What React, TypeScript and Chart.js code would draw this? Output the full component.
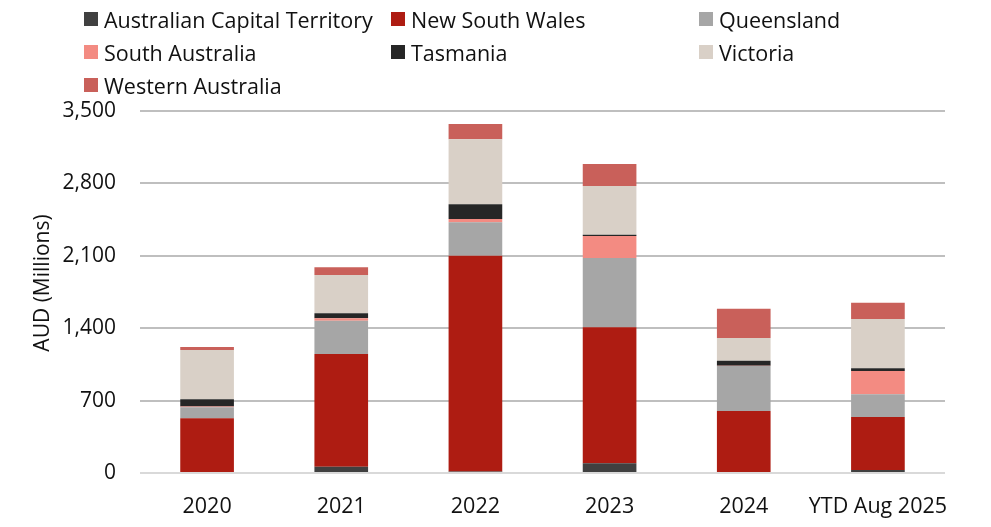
import React, { useEffect, useRef } from "react";
import { Chart, registerables } from "chart.js";

Chart.register(...registerables);

const categories = ["2020", "2021", "2022", "2023", "2024", "YTD Aug 2025"];
const seriesNames = [
  "Australian Capital Territory",
  "New South Wales",
  "Queensland",
  "South Australia",
  "Tasmania",
  "Victoria",
  "Western Australia",
];
const seriesColors = ["#404040", "#ae1c12", "#a6a6a6", "#f38b82", "#262626", "#d9d0c7", "#c9605a"];

const act = [0, 61, 15, 94, 0, 29];
const nsw = [529, 1089, 2086, 1315, 600, 512];
const qld = [106, 323, 323, 670, 434, 220];
const sa = [8, 23, 32, 213, 3, 225];
const tas = [70, 48, 142, 12, 49, 26];
const vic = [476, 370, 628, 471, 219, 477];
const wa = [29, 75, 148, 213, 284, 158];
const seriesValues = [act, nsw, qld, sa, tas, vic, wa];

const yTicks = [0, 700, 1400, 2100, 2800, 3500];
const yTitle = "AUD (Millions)";
const FONT = "'Open Sans', 'Noto Sans', sans-serif";

const yTitlePlugin = {
  id: "yTitlePlugin",
  afterDraw(chart: any) {
    const ctx = chart.ctx;
    ctx.save();
    ctx.translate(43, 283);
    ctx.rotate(-Math.PI / 2);
    ctx.fillStyle = "#111";
    ctx.font = `21px ${FONT}`;
    ctx.textAlign = "center";
    ctx.textBaseline = "middle";
    ctx.fillText(yTitle, 0, 0);
    ctx.restore();
  },
};

export default function App() {
  const ref = useRef<HTMLCanvasElement | null>(null);

  useEffect(() => {
    if (!ref.current) return;
    const chart = new Chart(ref.current, {
      type: "bar",
      data: {
        labels: categories,
        datasets: seriesNames.map((name, i) => ({
          label: name,
          data: seriesValues[i],
          backgroundColor: seriesColors[i],
          borderWidth: 0,
          barPercentage: 0.4,
          categoryPercentage: 1,
        })),
      },
      options: {
        animation: false,
        responsive: false,
        maintainAspectRatio: false,
        layout: { padding: { top: 111, right: 46, left: 0, bottom: 0 } },
        plugins: { legend: { display: false }, tooltip: { enabled: false } },
        scales: {
          x: {
            stacked: true,
            grid: { display: false, drawTicks: false },
            border: { display: false },
            ticks: {
              color: "#111",
              font: { family: FONT, size: 21.5 },
              padding: 21,
              maxRotation: 0,
              autoSkip: false,
            },
            afterFit(scale: any) {
              scale.height = 54;
            },
          },
          y: {
            stacked: true,
            min: 0,
            max: 3500,
            afterBuildTicks(scale: any) {
              scale.ticks = yTicks.map((v) => ({ value: v }));
            },
            grid: {
              drawTicks: false,
              lineWidth: 2,
              color: (c: any) => (c.tick && c.tick.value === 0 ? "#d9d9d9" : "#bfbfbf"),
            },
            border: { display: false },
            ticks: {
              color: "#111",
              font: { family: FONT, size: 21 },
              padding: 24,
              callback: (v: any) => Number(v).toLocaleString("en-US"),
            },
            afterFit(scale: any) {
              scale.width = 140;
            },
          },
        },
      },
      plugins: [yTitlePlugin],
    });
    return () => chart.destroy();
  }, []);

  const legendCols = [84, 391, 699];
  const legendRows = [19, 52, 85];

  return (
    <div style={{ position: "fixed", left: 0, top: 0, width: 991, height: 527, background: "#fff" }}>
      <canvas ref={ref} width={991} height={527} style={{ position: "absolute", left: 0, top: 0 }} />
      {seriesNames.map((name, i) => {
        const col = i % 3;
        const row = Math.floor(i / 3);
        return (
          <div
            key={name}
            style={{
              position: "absolute",
              left: legendCols[col],
              top: legendRows[row] - 15,
              height: 30,
              display: "flex",
              alignItems: "center",
              fontFamily: FONT,
              fontSize: 21.5,
              color: "#111",
              whiteSpace: "nowrap",
            }}
          >
            <span
              style={{
                display: "inline-block",
                width: 14,
                height: 14,
                background: seriesColors[i],
                marginRight: 6,
              }}
            />
            {name}
          </div>
        );
      })}
    </div>
  );
}
